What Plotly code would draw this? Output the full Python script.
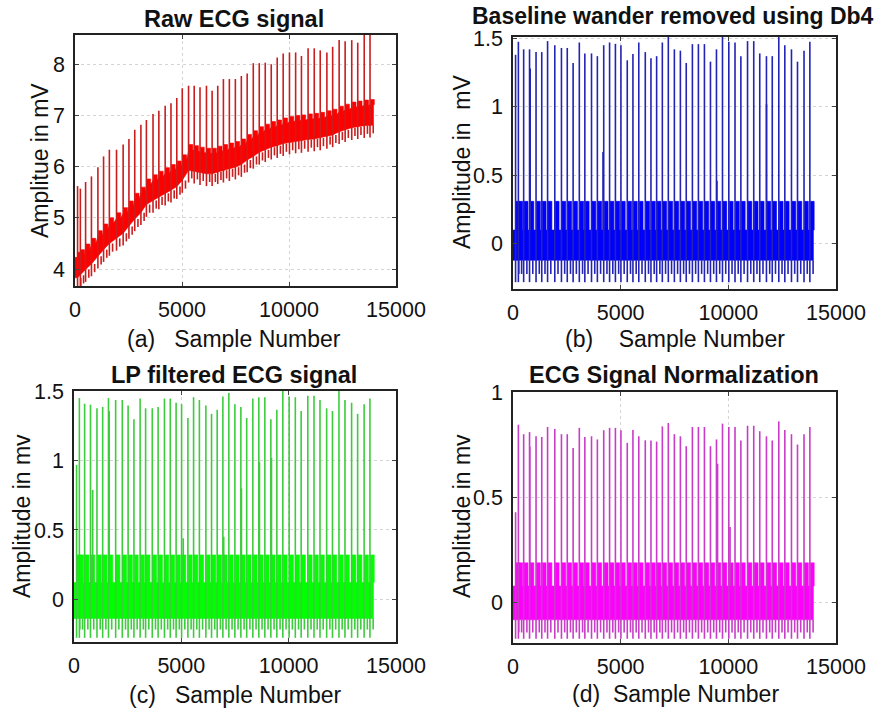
import plotly.graph_objects as go

# ---------------- data ----------------
beat_samples = [120, 250, 495, 768, 1070, 1335, 1606, 1940, 2250, 2520,
                2792, 3080, 3336, 3646, 3918, 4213, 4485, 4756, 5012, 5306,
                5570, 5841, 6143, 6407, 6670, 6935, 7213, 7494, 7773, 8045,
                8331, 8610, 8890, 9170, 9449, 9728, 10022, 10310, 10582, 10892,
                11180, 11459, 11770, 12040, 12343, 12623, 12932, 13212, 13515, 13786]

raw_peaks = [5.62, 5.57, 5.70, 5.81, 5.99, 6.20, 6.33, 6.33, 6.43, 6.54,
             6.72, 6.82, 6.91, 7.03, 7.09, 7.19, 7.24, 7.34, 7.53, 7.58,
             7.58, 7.55, 7.58, 7.48, 7.58, 7.71, 7.71, 7.71, 7.77, 7.82,
             8.02, 8.02, 8.03, 8.00, 8.13, 8.21, 8.23, 8.23, 8.16, 8.31,
             8.31, 8.27, 8.23, 8.34, 8.47, 8.45, 8.47, 8.42, 8.70, 8.70]

raw_baseline = [3.95, 4.00, 4.11, 4.22, 4.37, 4.50, 4.62, 4.72, 4.82, 4.95,
                5.10, 5.22, 5.38, 5.46, 5.53, 5.60, 5.66, 5.73, 5.85, 6.05,
                6.03, 6.00, 5.98, 5.98, 6.02, 6.05, 6.08, 6.11, 6.16, 6.25,
                6.32, 6.40, 6.45, 6.50, 6.53, 6.57, 6.60, 6.62, 6.63, 6.65,
                6.66, 6.68, 6.71, 6.74, 6.80, 6.84, 6.88, 6.90, 6.92, 6.93]

bw_peaks = [1.38, 1.475, 1.42, 1.42, 1.40, 1.40, 1.48, 1.45, 1.43, 1.43,
            1.32, 1.47, 1.39, 1.39, 1.37, 1.45, 1.47, 1.46, 1.45, 1.34,
            1.385, 1.47, 1.40, 1.354, 1.37, 1.47, 1.52, 1.42, 1.41, 1.32,
            1.458, 1.458, 1.458, 1.33, 1.42, 1.52, 1.475, 1.47, 1.37, 1.48,
            1.48, 1.39, 1.37, 1.37, 1.52, 1.45, 1.42, 1.33, 1.41, 1.475]

lp_peaks = [0.97, 1.454, 1.413, 1.406, 1.381, 1.39, 1.454, 1.44, 1.44, 1.40,
            1.30, 1.45, 1.38, 1.38, 1.39, 1.45, 1.45, 1.42, 1.41, 1.31,
            1.46, 1.44, 1.40, 1.34, 1.37, 1.465, 1.49, 1.41, 1.39, 1.31,
            1.45, 1.46, 1.46, 1.30, 1.37, 1.52, 1.465, 1.46, 1.36, 1.47,
            1.47, 1.44, 1.38, 1.36, 1.52, 1.44, 1.42, 1.34, 1.41, 1.45]

norm_peaks = [0.43, 0.845, 0.80, 0.81, 0.79, 0.787, 0.834, 0.825, 0.80, 0.80,
              0.735, 0.83, 0.787, 0.79, 0.775, 0.819, 0.83, 0.83, 0.819, 0.759,
              0.82, 0.79, 0.771, 0.77, 0.765, 0.837, 0.853, 0.80, 0.79, 0.743,
              0.834, 0.834, 0.834, 0.743, 0.775, 0.85, 0.834, 0.834, 0.77, 0.84,
              0.84, 0.814, 0.79, 0.77, 0.861, 0.82, 0.80, 0.751, 0.80, 0.834]

bw_extra_samples = [800, 4180, 9470, 11773]
bw_extra_peaks = [1.28, 0.67, 0.46, 1.02]
lp_extra_samples = [870, 1640, 5090, 6975, 7800, 8640, 9200]
lp_extra_peaks = [0.79, 1.36, 0.44, 0.45, 0.80, 0.99, 1.02]
norm_extra_samples = [780, 9500, 10080]
norm_extra_peaks = [0.74, 0.66, 0.36]

signal_end = 13950

# band levels relative to baseline: trough, low, mid, high, stub
raw_levels = [-0.36, -0.12, 0.28, 0.38, -0.28]
bw_levels = [-0.28, -0.12, 0.10, 0.31, -0.22]
lp_levels = [-0.28, -0.14, 0.12, 0.32, -0.22]
norm_levels = [-0.17, -0.08, 0.08, 0.19, -0.14]

x_ticks = [0, 5000, 10000, 15000]
raw_yticks = [4, 5, 6, 7, 8]
bw_yticks = [0, 0.5, 1, 1.5]
lp_yticks = [0, 0.5, 1, 1.5]
norm_yticks = [0, 0.5, 1]

W, H = 879, 710
FONT = "Liberation Sans, Arial, Helvetica, sans-serif"


def px(x, y):
    return x / W, 1 - y / H


def panel_traces(base, peaks, levels, band_color, spike_color, xa, ya,
                 extra_s=(), extra_p=()):
    trough, low, mid, high, stub = levels
    # band polygon
    bx, by = [0], [base[0] + mid]
    for p, b in zip(beat_samples, base):
        bx += [p + 20, p + 20, p + 200, p + 200]
        by += [b + mid, b + high, b + high, b + mid]
    bx += [signal_end, signal_end]
    by += [base[-1] + mid, base[-1] + low]
    for p, b in zip(reversed(beat_samples), reversed(base)):
        bx.append(p)
        by.append(b + low)
    bx.append(0)
    by.append(base[0] + low)
    band = go.Scatter(x=bx, y=by, mode="lines", fill="toself",
                      fillcolor=band_color, line=dict(color=band_color, width=0.6),
                      xaxis=xa, yaxis=ya, hoverinfo="skip", showlegend=False)
    sx, sy = [], []
    for p, b, pk in zip(beat_samples, base, peaks):
        sx += [p, p, None, p + 150, p + 150, None]
        sy += [b + trough, pk, None, b + low, b + stub, None]
    for s, pk in zip(extra_s, extra_p):
        sx += [s, s, None]
        sy += [base[0] + mid, pk, None]
    spikes = go.Scatter(x=sx, y=sy, mode="lines",
                        line=dict(color=spike_color, width=1.6),
                        xaxis=xa, yaxis=ya, hoverinfo="skip", showlegend=False,
                        connectgaps=False)
    return [band, spikes]


zeros = [0.0] * len(beat_samples)

fig = go.Figure()
for t in panel_traces(raw_baseline, raw_peaks, raw_levels, "#ff0000", "#c81e1e", "x", "y"):
    fig.add_trace(t)
for t in panel_traces(zeros, bw_peaks, bw_levels, "#0000ff", "#2323b4", "x2", "y2",
                      bw_extra_samples, bw_extra_peaks):
    fig.add_trace(t)
for t in panel_traces(zeros, lp_peaks, lp_levels, "#00ff00", "#3ccc3c", "x3", "y3",
                      lp_extra_samples, lp_extra_peaks):
    fig.add_trace(t)
for t in panel_traces(zeros, norm_peaks, norm_levels, "#ff00ff", "#c83cc8", "x4", "y4",
                      norm_extra_samples, norm_extra_peaks):
    fig.add_trace(t)

# panel boxes in pixels: (left, right, top, bottom)
boxes = {
    "1": (75, 396, 35, 286),
    "2": (513, 836, 37, 289),
    "3": (74, 396, 391, 642),
    "4": (513, 836, 392, 643),
}
yranges = {"1": [3.67, 8.57], "2": [-0.33, 1.51], "3": [-0.31, 1.505], "4": [-0.19, 1.0]}
yticks = {"1": raw_yticks, "2": bw_yticks, "3": lp_yticks, "4": norm_yticks}

axis_common = dict(showline=True, linecolor="#222222", linewidth=1.5, mirror="allticks",
                   ticks="inside", ticklen=4, tickcolor="#444444", automargin=False,
                   showgrid=True, gridcolor="#d4d4d4", griddash="dot", gridwidth=1,
                   zeroline=False, tickfont=dict(family=FONT, size=21.5, color="#111111"))

layout = dict(width=W, height=H, margin=dict(l=0, r=0, t=0, b=0, autoexpand=False),
              paper_bgcolor="white", plot_bgcolor="white", showlegend=False)
for k, (l, r, t, b) in boxes.items():
    xs = "" if k == "1" else k
    x0, y1 = px(l, t)
    x1, y0 = px(r, b)
    layout["xaxis" + xs] = dict(domain=[x0, x1], range=[0, 15000], tickvals=x_ticks,
                                ticktext=[str(v) for v in x_ticks], anchor="y" + xs,
                                ticklabelstandoff=3, **axis_common)
    layout["yaxis" + xs] = dict(domain=[y0, y1], range=yranges[k], tickvals=yticks[k],
                                ticktext=[("%g" % v) for v in yticks[k]], anchor="x" + xs,
                                ticklabelstandoff=4, **axis_common)
fig.update_layout(**layout)

NB = "\u00a0"
annots = [
    ("Raw ECG signal", 234, 19, 0, True, 23.5),
    ("Baseline wander removed using Db4", 673, 16, 0, True, 23),
    ("LP filtered ECG signal", 234, 375, 0, True, 23.5),
    ("ECG Signal Normalization", 674, 375, 0, True, 23.5),
    ("(a)" + NB * 3 + "Sample Number", 234, 339, 0, False, 23),
    ("(b)" + NB * 4 + "Sample Number", 675, 339, 0, False, 23),
    ("(c)" + NB * 3 + "Sample Number", 235, 695, 0, False, 23),
    ("(d)" + NB * 2 + "Sample Number", 675, 694, 0, False, 23),
    ("Amplitue in mV", 40, 161, -90, False, 23),
    ("Amplitude in" + NB * 2 + "mV", 462, 162, -90, False, 23),
    ("Amplitude in mv", 22, 516, -90, False, 23),
    ("Amplitude in mv", 462, 516, -90, False, 23),
]
for text, x, y, ang, bold, size in annots:
    fx, fy = px(x, y)
    fig.add_annotation(text=("<b>%s</b>" % text) if bold else text, x=fx, y=fy,
                       xref="paper", yref="paper", showarrow=False, textangle=ang,
                       xanchor="center", yanchor="middle",
                       font=dict(family=FONT, size=size, color="#111111"))

fig.write_html("out.html", config={"displayModeBar": False},
               post_script="document.body.style.margin='0';"
                           "document.body.style.overflow='hidden';")
